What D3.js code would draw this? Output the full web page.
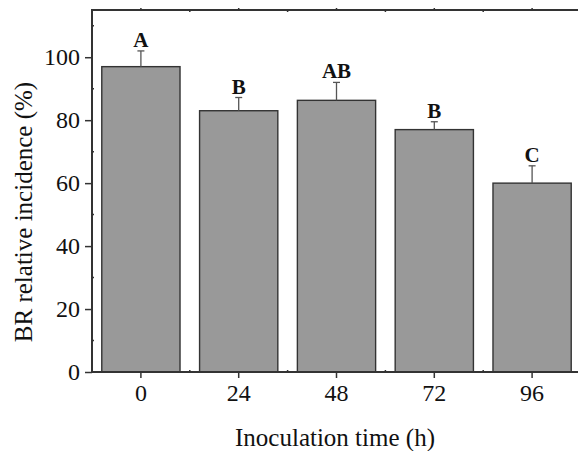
<!DOCTYPE html>
<html>
<head>
<meta charset="utf-8">
<script src="https://cdn.jsdelivr.net/npm/d3@7"></script>
<style>
  body { margin: 0; background: #fff; }
  svg { display: block; }
  text { font-family: "Liberation Serif", "Times New Roman", serif; fill: #111; }
</style>
</head>
<body>
<svg id="chart" width="578" height="451"></svg>
<script>
const times = ['0', '24', '48', '72', '96']
const incidence = [97, 83, 86.3, 77, 60]
const errors = [5, 4.2, 5.7, 2.5, 5.5]
const groups = ['A', 'B', 'AB', 'B', 'C']
const yTicks = [0, 20, 40, 60, 80, 100]
const yMinor = [10, 30, 50, 70, 90, 110]

const margin = { top: 10, right: -3, bottom: 79, left: 92 }
const W = 578, H = 451
const svg = d3.select('#chart')

const x = d3.scaleBand()
    .domain(times)
    .range([margin.left, W - margin.right])
    .paddingInner(0.2)
    .paddingOuter(0.1)

const y = d3.scaleLinear()
    .domain([0, 115])
    .range([H - margin.bottom, margin.top])

const axisCol = '#333'
const x0 = margin.left, x1 = W - margin.right
const yb = y(0), yt = y(115)

// bars
svg.append('g')
    .selectAll('rect')
    .data(times)
    .enter()
    .append('rect')
    .attr('x', d => x(d))
    .attr('y', (d, i) => y(incidence[i]))
    .attr('width', x.bandwidth())
    .attr('height', (d, i) => y(0) - y(incidence[i]))
    .attr('fill', '#999999')
    .attr('stroke', '#333')
    .attr('stroke-width', 1.4)

// error bars (upper only)
const eb = svg.append('g').attr('stroke', '#555').attr('stroke-width', 1.3)
times.forEach((d, i) => {
    const cx = x(d) + x.bandwidth() / 2
    eb.append('line')
        .attr('x1', cx).attr('x2', cx)
        .attr('y1', y(incidence[i])).attr('y2', y(incidence[i] + errors[i]))
    eb.append('line')
        .attr('x1', cx - 3.5).attr('x2', cx + 3.5)
        .attr('y1', y(incidence[i] + errors[i])).attr('y2', y(incidence[i] + errors[i]))
})

// significance letters
svg.append('g')
    .selectAll('text')
    .data(groups)
    .enter()
    .append('text')
    .attr('x', (d, i) => x(times[i]) + x.bandwidth() / 2)
    .attr('y', (d, i) => y(incidence[i] + errors[i]) - 4)
    .attr('text-anchor', 'middle')
    .attr('font-size', 21)
    .attr('font-weight', 'bold')
    .text(d => d)

// frame
const fr = svg.append('g').attr('stroke', axisCol).attr('stroke-width', 2).attr('fill', 'none')
fr.append('rect').attr('x', x0).attr('y', yt).attr('width', x1 - x0).attr('height', yb - yt)

// y axis
const yAxis = d3.axisLeft(y).tickValues(yTicks).tickSize(7).tickSizeOuter(0).tickPadding(5)
const gy = svg.append('g').attr('transform', `translate(${x0},0)`).call(yAxis)
gy.select('.domain').remove()
gy.selectAll('line').attr('stroke', axisCol).attr('stroke-width', 1.5)
gy.selectAll('text').attr('font-size', 24).attr('fill', '#111')
    .style('font-family', '"Liberation Serif", "Times New Roman", serif')

const minor = svg.append('g').attr('stroke', axisCol).attr('stroke-width', 1.5)
yMinor.forEach(v => {
    minor.append('line').attr('x1', x0).attr('x2', x0 + 2).attr('y1', y(v)).attr('y2', y(v))
})
yTicks.forEach(v => {
    minor.append('line').attr('x1', x1).attr('x2', x1 + 6).attr('y1', y(v)).attr('y2', y(v))
})

// x axis
const xAxis = d3.axisBottom(x).tickSize(6).tickSizeOuter(0).tickPadding(6)
const gx = svg.append('g').attr('transform', `translate(0,${yb})`).call(xAxis)
gx.select('.domain').remove()
gx.selectAll('line').attr('stroke', axisCol).attr('stroke-width', 1.5)
gx.selectAll('text').attr('font-size', 24).attr('fill', '#111')
    .style('font-family', '"Liberation Serif", "Times New Roman", serif')

// minor x ticks (band boundaries) and top ticks
times.forEach((d, i) => {
    const c = x(d) + x.bandwidth() / 2
    const b = c + x.step() / 2
    if (i < times.length - 1) {
        minor.append('line').attr('x1', b).attr('x2', b).attr('y1', yb).attr('y2', yb - 2)
    }
    minor.append('line').attr('x1', c).attr('x2', c).attr('y1', yt).attr('y2', yt - 2)
    minor.append('line').attr('x1', b).attr('x2', b).attr('y1', yt).attr('y2', yt + 2)
})

// axis titles
svg.append('text')
    .attr('x', (x0 + 578) / 2)
    .attr('y', 446)
    .attr('text-anchor', 'middle')
    .attr('font-size', 25)
    .text('Inoculation time (h)')

svg.append('text')
    .attr('transform', `translate(32,${(10 + 372) / 2 + 21}) rotate(-90)`)
    .attr('text-anchor', 'middle')
    .attr('font-size', 25)
    .text('BR relative incidence (%)')
</script>
</body>
</html>
